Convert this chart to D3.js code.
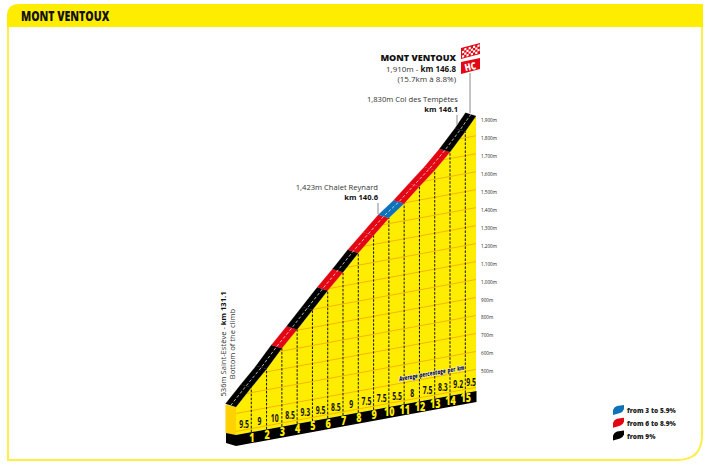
<!DOCTYPE html>
<html>
<head>
<meta charset="utf-8">
<script src="https://cdn.jsdelivr.net/npm/d3@7"></script>
<style>
  html, body { margin: 0; padding: 0; background: #fff; }
  svg { display: block; }
  text { font-family: "Open Sans", sans-serif; }
</style>
</head>
<body>
<script>
// values
var kms = [0, 1, 2, 3, 4, 5, 6, 7, 8, 9, 10, 11, 12, 13, 14, 15, 15.7];
var elevations = [536, 628, 716, 816, 905, 998, 1090, 1177, 1268, 1350, 1432, 1497, 1575, 1650, 1736, 1834, 1910];
var gradients = [9.5, 9, 10, 8.5, 9.3, 9.5, 8.5, 9, 7.5, 7.5, 5.5, 8, 7.5, 8.3, 9.2, 9.5];
var kmLabels = [1, 2, 3, 4, 5, 6, 7, 8, 9, 10, 11, 12, 13, 14, 15];
var elevTicks = [500, 600, 700, 800, 900, 1000, 1100, 1200, 1300, 1400, 1500, 1600, 1700, 1800, 1900];
var gridLevels = [400, 500, 600, 700, 800, 900, 1000, 1100, 1200, 1300, 1400, 1500, 1600, 1700, 1800, 1900];
var legendLabels = ["from 3 to 5.9%", "from 6 to 8.9%", "from 9%"];
var legendColors = ["#0f71b8", "#e30613", "#000000"];

var YELLOW = "#ffed00", RED = "#e30613", BLUE = "#0f71b8";

var svg = d3.select("body").append("svg")
    .attr("width", 712)
    .attr("height", 469);

// frame and header
svg.append("path")
    .attr("d", "M8,27V460H677Q702,460 702,435V27")
    .attr("fill", "none")
    .attr("stroke", "#ffed4a")
    .attr("stroke-width", 2);
svg.append("path")
    .attr("d", "M7,27V16Q7,4 19,4H703V27Z")
    .attr("fill", YELLOW);
svg.append("text")
    .attr("transform", "translate(21,21) scale(0.78,1)")
    .attr("font-size", 13.5)
    .attr("font-weight", 800)
    .attr("fill", "#111")
    .text("MONT VENTOUX");

// scales: the picture is an oblique view, the floor rises to the right
var x = d3.scaleLinear().domain([0, 15.7]).range([236, 476]);
var floorY = d3.scaleLinear().domain([0, 15.7]).range([435, 391]);
var h = d3.scaleLinear().domain([380, 1910]).range([0, 275]);
function py(k, e) { return floorY(k) - h(e); }

var OFF_X = -10.5, OFF_Y = -3.2; // depth of the road band
var profile = kms.map(function(k, i) { return [x(k), py(k, elevations[i])]; });

function gradColor(g) {
  if (g >= 9) return "#000";
  if (g >= 6) return RED;
  return BLUE;
}

var line = d3.line();

// yellow body
var bodyPts = profile.concat([[x(15.7), floorY(15.7)], [x(0), floorY(0)]]);
svg.append("clipPath").attr("id", "body")
  .append("path").attr("d", line(bodyPts) + "Z");
svg.append("path").attr("d", line(bodyPts) + "Z").attr("fill", YELLOW);

// side face
svg.append("path")
    .attr("d", line([[x(0) + OFF_X, py(0, 536) + OFF_Y + 1], [x(0), py(0, 536)], [x(0), floorY(0)], [x(0) + OFF_X, floorY(0) - 2]]) + "Z")
    .attr("fill", "#ffd100");

// elevation grid
svg.append("g").attr("clip-path", "url(#body)")
  .selectAll("path")
  .data(gridLevels)
  .enter().append("path")
    .attr("d", function(e) { return line([[x(0), py(0, e)], [x(15.7), py(15.7, e)]]); })
    .attr("stroke", "#f3a800")
    .attr("stroke-width", 0.8)
    .attr("fill", "none");

// km marks
svg.append("g").selectAll("line")
  .data(kmLabels)
  .enter().append("line")
    .attr("x1", function(k) { return x(k); })
    .attr("x2", function(k) { return x(k); })
    .attr("y1", function(k) { return floorY(k); })
    .attr("y2", function(k) { return py(k, elevations[k]); })
    .attr("stroke", "#111")
    .attr("stroke-width", 1)
    .attr("stroke-dasharray", "2.5,1.5");

// road band coloured by gradient
svg.append("g").selectAll("path")
  .data(gradients)
  .enter().append("path")
    .attr("d", function(g, i) {
      var a = profile[i], b = profile[i + 1];
      return line([a, b, [b[0] + OFF_X, b[1] + OFF_Y], [a[0] + OFF_X, a[1] + OFF_Y]]) + "Z";
    })
    .attr("fill", gradColor)
    .attr("stroke", gradColor)
    .attr("stroke-width", 0.2);
svg.append("path")
    .attr("d", line(profile.map(function(p) { return [p[0] + OFF_X / 2, p[1] + OFF_Y / 2]; })))
    .attr("fill", "none")
    .attr("stroke", "#fff")
    .attr("stroke-width", 0.7)
    .attr("stroke-dasharray", "3,2");

// black floor
svg.append("path")
    .attr("d", line([[226, 433], [x(0), floorY(0)], [x(15.7) + 0.5, floorY(15.7)], [x(15.7) + 0.5, floorY(15.7) + 11], [x(0), floorY(0) + 11], [226, 443]]) + "Z")
    .attr("fill", "#000");

svg.append("g").selectAll("text")
  .data(kmLabels)
  .enter().append("text")
    .attr("transform", function(k) { return "translate(" + (x(k) + 0.5) + "," + (floorY(k) + 9.5) + ") scale(0.78,1)"; })
    .attr("text-anchor", "middle")
    .attr("font-size", 11.5)
    .attr("font-weight", 800)
    .attr("fill", YELLOW)
    .text(function(k) { return k; });

// gradient per km
svg.append("g").selectAll("text")
  .data(gradients)
  .enter().append("text")
    .attr("transform", function(g, i) {
      var k = (kms[i] + kms[i + 1]) / 2;
      return "translate(" + (x(k) + 0.5) + "," + (floorY(k) - 6) + ") scale(0.62,1)";
    })
    .attr("text-anchor", "middle")
    .attr("font-size", 11)
    .attr("font-weight", 700)
    .attr("fill", "#111")
    .text(function(g) { return g; });

svg.append("text")
    .attr("transform", "translate(432,375.5) rotate(-10) scale(0.72,1)")
    .attr("text-anchor", "middle")
    .attr("font-size", 6.6)
    .attr("font-weight", 800)
    .attr("font-style", "italic")
    .attr("word-spacing", 1)
    .attr("fill", "#14143a")
    .attr("stroke", "#fff")
    .attr("stroke-width", 0.9)
    .attr("paint-order", "stroke")
    .text("Average percentage per km");

// altitude axis
var yAxis = d3.scaleLinear().domain([380, 1910]).range([393, 118]);
var axisG = svg.append("g")
    .attr("transform", "translate(479,0)")
    .call(d3.axisRight(yAxis).tickValues(elevTicks).tickSize(0).tickPadding(2)
      .tickFormat(function(d) { return d3.format(",")(d) + "m"; }));
axisG.select(".domain").remove();
axisG.selectAll("text")
    .attr("font-family", "'Open Sans', sans-serif")
    .attr("font-size", 4.6)
    .attr("fill", "#222");

// leaders
var leaders = [[470, 73, 113], [457, 115, 125], [378, 203, 214]];
svg.append("g").selectAll("line")
  .data(leaders)
  .enter().append("line")
    .attr("x1", function(d) { return d[0]; })
    .attr("x2", function(d) { return d[0]; })
    .attr("y1", function(d) { return d[1]; })
    .attr("y2", function(d) { return d[2]; })
    .attr("stroke", "#8a8a8a")
    .attr("stroke-width", 1);

// flag
var flag = svg.append("g");
flag.append("path").attr("d", "M461,48L480,43V54L461,59Z").attr("fill", RED);
var cols = d3.range(8), rows = d3.range(4);
rows.forEach(function(r) {
  cols.forEach(function(c) {
    if ((r + c) % 2 == 0) return;
    var cx = 462 + c * 2.2, cy = 49 - c * 0.58 + r * 2.2;
    flag.append("path")
        .attr("d", "M" + cx + "," + cy + "l2.2,-0.58v2.2l-2.2,0.58z")
        .attr("fill", "#fff");
  });
});
flag.append("path").attr("d", "M461,62L480,58V69L461,74Z").attr("fill", RED);
flag.append("text")
    .attr("transform", "translate(471,70) rotate(-12) scale(0.8,1)")
    .attr("text-anchor", "middle")
    .attr("font-size", 10)
    .attr("font-weight", 800)
    .attr("fill", "#fff")
    .text("HC");

// annotations
function label(xp, yp, parts, size, anchor) {
  var t = svg.append("text")
      .attr("x", xp).attr("y", yp)
      .attr("text-anchor", anchor || "end")
      .attr("font-size", size)
      .attr("fill", "#333");
  parts.forEach(function(p) {
    t.append("tspan").attr("font-weight", p[1] ? 700 : 400).attr("fill", p[1] ? "#111" : "#333").text(p[0]);
  });
}
svg.append("text")
    .attr("transform", "translate(456,60.8) scale(0.95,1)")
    .attr("text-anchor", "end")
    .attr("font-size", 9.5)
    .attr("font-weight", 800)
    .attr("fill", "#111")
    .text("MONT VENTOUX");
label(456, 72, [["1,910m - ", 0], ["km 146.8", 1]], 8);
label(456, 81.5, [["(15.7km à 8.8%)", 0]], 8);
label(458, 102, [["1,830m Col des Tempêtes", 0]], 7.6);
label(458, 111.5, [["km 146.1", 1]], 7.6);
label(378, 190, [["1,423m Chalet Reynard", 0]], 7.6);
label(378, 199.5, [["km 140.6", 1]], 7.6);

var side = svg.append("g").attr("transform", "translate(226,344) rotate(-90)");
side.append("text").attr("text-anchor", "middle").attr("font-size", 7.6).attr("fill", "#333")
    .call(function(t) {
      t.append("tspan").text("536m Saint-Estève - ");
      t.append("tspan").attr("font-weight", 700).attr("fill", "#111").text("km 131.1");
    });
side.append("text").attr("y", 9).attr("text-anchor", "middle").attr("font-size", 7.6).attr("fill", "#333")
    .text("Bottom of the climb");

// legend
var legend = svg.append("g").selectAll("g")
  .data(legendLabels)
  .enter().append("g")
    .attr("transform", function(d, i) { return "translate(613," + (405 + i * 12.8) + ")"; });
legend.append("path")
    .attr("d", "M0,10 L0,5 Q1,2 4,1 L11,0 L11,4 Q10,7 7,8 Z")
    .attr("fill", function(d, i) { return legendColors[i]; });
legend.append("text")
    .attr("transform", "translate(14,8) scale(0.87,1)")
    .attr("font-size", 7.6)
    .attr("font-weight", 800)
    .attr("fill", "#222")
    .text(function(d) { return d; });
</script>
</body>
</html>
